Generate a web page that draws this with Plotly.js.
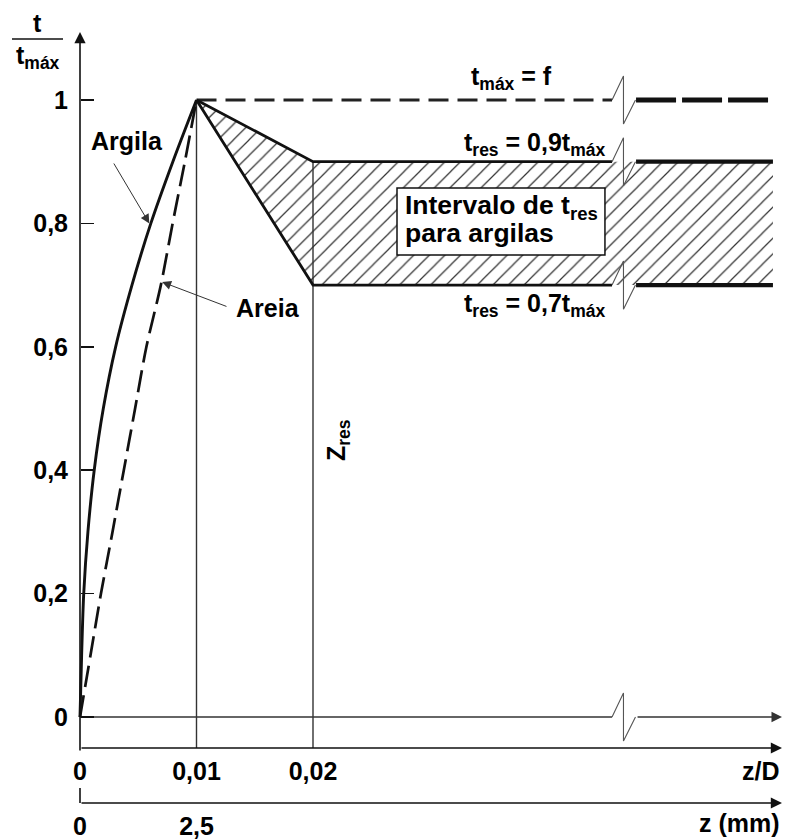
<!DOCTYPE html>
<html><head><meta charset="utf-8">
<script src="https://cdn.plot.ly/plotly-3.0.1.min.js"></script>
<style>html,body{margin:0;padding:0;background:#fff}</style>
</head><body><div id="chart" style="width:787px;height:839px"></div>
<script>
// ---------- data ----------
const stressRatio = [0, 0.1, 0.2, 0.3, 0.4, 0.5, 0.6, 0.7, 0.8, 0.9, 1.0];     // t / tmax
const argilaZD   = [0, 0.00014, 0.00032, 0.00068, 0.00122, 0.002, 0.00306, 0.00446, 0.00608, 0.00797, 0.01];
const areiaZD    = [0, 0.0009, 0.0018, 0.00279, 0.00376, 0.00473, 0.0057, 0.00694, 0.00795, 0.009, 0.01];
const zPeak = 0.01;     // z/D where t = tmax
const zRes  = 0.02;     // z/D where residual is reached
const tMax = 1.0;
const tResHigh = 0.9;
const tResLow  = 0.7;
const yTickVals  = [0, 0.2, 0.4, 0.6, 0.8, 1];
const xTickVals  = [0, 0.01, 0.02];
const mmTickVals = [0, 2.5];
const mmPerZD = 250;    // z (mm) = z/D * 250

// ---------- drawing geometry (layout only) ----------
const xRange = [-80/11650, (787-80)/11650];
const yRange = [-(839-717)/617, 717/617];
const bL = 0.04567, bM = 0.04665, bR = 0.04768;   // axis-break zigzag
const xRestart = 0.04773, xEnd = 0.05948, xArrow = 0.06026;
const zigDy = 0.039;
const zdAxisY = -0.05024, mmAxisY = -0.1394;

const FONT = 'Liberation Sans, Arial, sans-serif';
const INK = '#111';
const THIN = '#333';

function zig(v){
  return {x:[bL,bM,bM,bR], y:[v, v+zigDy, v-zigDy, v], mode:'lines',
    line:{color:'#555', width:1.1}, hoverinfo:'skip', showlegend:false};
}
function seg(xs, ys, width, dash, color){
  return {x:xs, y:ys, mode:'lines', line:{color:color||INK, width:width, dash:dash||'solid'},
    hoverinfo:'skip', showlegend:false};
}

const traces = [
  // hatched residual band
  {x:[zPeak, zRes, xEnd, xEnd, zRes, zPeak], y:[tMax, tResHigh, tResHigh, tResLow, tResLow, tMax],
   mode:'lines', fill:'toself', fillcolor:'rgba(255,255,255,0)', line:{width:0, color:'rgba(0,0,0,0)'},
   fillpattern:{shape:'/', size:11, solidity:0.11, fgcolor:'#333', bgcolor:'rgba(255,255,255,0)'},
   hoverinfo:'skip', showlegend:false},
  // vertical reference lines
  seg([zPeak, zPeak], [tMax, zdAxisY], 1.4, 'solid', THIN),
  seg([zRes, zRes], [tResHigh, zdAxisY], 1.4, 'solid', THIN),
  // y = 0 line
  seg([0, bL], [0, 0], 1.4, 'solid', THIN),
  zig(0),
  // t max dashed
  seg([zPeak, bL], [tMax, tMax], 2.8, '20px,9px', '#222'),
  zig(tMax),
  seg([xRestart, xEnd], [tMax, tMax], 5, '40px,6px'),
  // residual boundaries
  seg([zPeak, zRes, bL], [tMax, tResHigh, tResHigh], 2.8),
  seg([zPeak, zRes, bL], [tMax, tResLow, tResLow], 2.8),
  zig(tResHigh), zig(tResLow),
  seg([xRestart, xEnd], [tResHigh, tResHigh], 4.2),
  seg([xRestart, xEnd], [tResLow, tResLow], 4.2),
  // curves
  {x:argilaZD, y:stressRatio, mode:'lines', line:{color:INK, width:2.9, shape:'spline', smoothing:0.9},
   hoverinfo:'skip', showlegend:false, name:'Argila'},
  {x:areiaZD, y:stressRatio, mode:'lines', line:{color:INK, width:2.7, dash:'22px,8px', shape:'spline', smoothing:0.8},
   hoverinfo:'skip', showlegend:false, name:'Areia'},
  // carrier for the mm axis
  {x:mmTickVals, y:[0,0], xaxis:'x2', mode:'markers', marker:{opacity:0}, hoverinfo:'skip', showlegend:false}
];

const tickFont = {family:FONT, size:25, color:'#000', weight:'bold'};

function arrowAnn(x, y, ax, ay, w, size, color){
  return {x:x, y:y, ax:ax, ay:ay, xref:'x', yref:'y', axref:'x', ayref:'y', text:'',
    showarrow:true, arrowhead:2, arrowsize:size, arrowwidth:w, arrowcolor:color||INK, standoff:0, startstandoff:0};
}
function txt(x, y, text, size, opts){
  return Object.assign({x:x, y:y, xref:'x', yref:'y', text:text, showarrow:false,
    font:{family:FONT, size:size, color:'#000'}, xanchor:'center', yanchor:'middle'}, opts||{});
}

const annotations = [
  // axes with arrows
  arrowAnn(0, 1.1102, 0, -0.0567, 1.6, 1.4),
  arrowAnn(xArrow, zdAxisY, 0, zdAxisY, 1.6, 1.4),
  arrowAnn(xArrow, 0, xRestart, 0, 1.5, 1.4, THIN),
  arrowAnn(xArrow, mmAxisY, 0, mmAxisY, 1.6, 1.4),
  // label arrows
  arrowAnn(0.00595, 0.80, 0.00283, 0.8995, 1, 1.8, THIN),
  arrowAnn(0.00705, 0.705, 0.0127, 0.6645, 1, 1.8, THIN),
  // labels
  txt(0.00403, 0.9335, '<b>Argila</b>', 25),
  txt(0.0161, 0.663, '<b>Areia</b>', 25),
  txt(0.03706, 1.036, '<b>t<sub>máx</sub> = f</b>', 25),
  txt(0.04524, 0.9287, '<b>t<sub>res</sub> = 0,9t<sub>máx</sub></b>', 25, {xanchor:'right'}),
  txt(0.04524, 0.6677, '<b>t<sub>res</sub> = 0,7t<sub>máx</sub></b>', 25, {xanchor:'right'}),
  txt(0.02773, 0.826, '<b>Intervalo de t<sub>res</sub></b>', 26.5, {xanchor:'left'}),
  txt(0.02773, 0.7844, '<b>para argilas</b>', 26.5, {xanchor:'left'}),
  txt(0.02215, 0.449, '<b>Z<sub>res</sub></b>', 25, {textangle:-90}),
  txt(xArrow, -0.0875, '<b>z/D</b>', 25, {xanchor:'right'}),
  txt(xArrow, -0.1718, '<b>z (mm)</b>', 25, {xanchor:'right'}),
  // y title
  {x:37/787, y:1-23/839, xref:'paper', yref:'paper', text:'<b>t</b>', showarrow:false,
   xanchor:'center', yanchor:'middle', font:{family:FONT, size:25, color:'#000'}},
  {x:38/787, y:1-57/839, xref:'paper', yref:'paper', text:'<b>t<sub>máx</sub></b>', showarrow:false,
   xanchor:'center', yanchor:'middle', font:{family:FONT, size:25, color:'#000'}}
];

const shapes = [
  {type:'rect', xref:'x', yref:'y', x0:0.02721, x1:0.04506, y0:0.7488, y1:0.8574,
   fillcolor:'#fff', line:{color:INK, width:1.5}},
  {type:'line', xref:'paper', yref:'paper', x0:12/787, x1:63/787, y0:1-39/839, y1:1-39/839,
   line:{color:INK, width:1.6}},
  {type:'line', xref:'x', yref:'y', x0:0, x1:0, y0:-0.1151, y1:mmAxisY, line:{color:INK, width:1.6}}
];

const layout = {
  width:787, height:839, margin:{l:0, r:0, t:0, b:0},
  paper_bgcolor:'#fff', plot_bgcolor:'#fff', separators:',.', showlegend:false,
  xaxis:{range:xRange, anchor:'free', position:(839-748)/839, tickvals:xTickVals, ticks:'',
    showgrid:false, zeroline:false, showline:false, tickfont:tickFont, ticklabelstandoff:6, fixedrange:true},
  xaxis2:{range:xRange.map(v=>v*mmPerZD), overlaying:'x', anchor:'free', position:(839-803)/839, side:'bottom',
    tickvals:mmTickVals, ticks:'', showgrid:false, zeroline:false, showline:false, tickfont:tickFont,
    ticklabelstandoff:6, fixedrange:true},
  yaxis:{range:yRange, anchor:'free', position:80/787, tickvals:yTickVals, ticks:'inside', ticklen:13,
    tickwidth:1.5, tickcolor:INK, showgrid:false, zeroline:false, showline:false, tickfont:tickFont,
    ticklabelstandoff:12, fixedrange:true},
  annotations:annotations, shapes:shapes
};

Plotly.newPlot('chart', traces, layout, {staticPlot:true, displayModeBar:false});
</script></body></html>
